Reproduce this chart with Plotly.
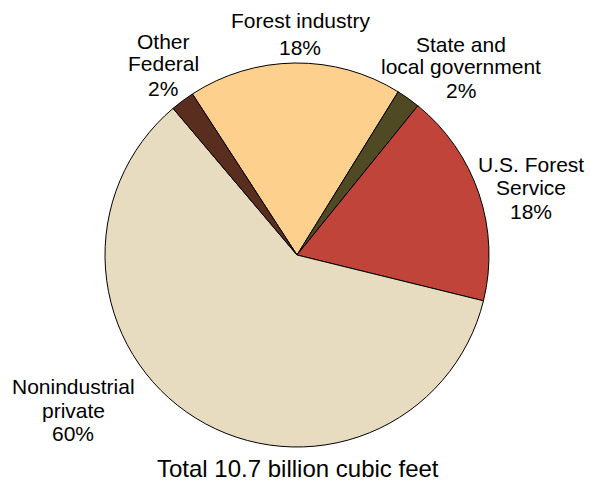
import plotly.graph_objects as go

# Owners of timber removals, share of total volume
owners = ["Forest industry", "State and local government", "U.S. Forest Service",
          "Nonindustrial private", "Other Federal"]
shares = [18, 2, 18, 60, 2]
colors = ["#FED08E", "#4F4A23", "#C0443A", "#E7DCC0", "#5A2E1E"]
label_lines = [["Forest industry", "18%"],
               ["State and", "local government", "2%"],
               ["U.S. Forest", "Service", "18%"],
               ["Nonindustrial", "private", "60%"],
               ["Other", "Federal", "2%"]]
# label anchor (center x, y of each line) in pixel space, y measured from top
label_x = [300, 461, 531, 73, 163]
label_y = [[20, 46], [43, 66, 90], [163, 186, 210], [385, 409, 432], [40, 62, 87]]

W, H = 591, 483
fig = go.Figure(go.Pie(
    labels=owners, values=shares, sort=False, direction="clockwise",
    rotation=-33, textinfo="none", hoverinfo="label+percent",
    marker=dict(colors=colors, line=dict(color="black", width=1)),
    domain=dict(x=[104 / W, 490 / W], y=[1 - 447 / H, 1 - 63 / H]),
    showlegend=False,
))

family = "Liberation Sans, Arial, sans-serif"
font = dict(family=family, size=21, color="black")
for lines, px, ys in zip(label_lines, label_x, label_y):
    for line, py in zip(lines, ys):
        fig.add_annotation(x=px / W, y=1 - (py + 1) / H, xref="paper", yref="paper",
                           text=line, showarrow=False, font=font,
                           xanchor="center", yanchor="middle")

fig.add_annotation(x=297.5 / W, y=1 - 468 / H, xref="paper", yref="paper",
                   text="Total 10.7 billion cubic feet", showarrow=False,
                   font=dict(family=family, size=24, color="black"),
                   xanchor="center", yanchor="middle", borderpad=0)

fig.update_layout(width=W, height=H, margin=dict(l=0, r=0, t=0, b=0),
                  paper_bgcolor="white", plot_bgcolor="white")
fig.write_html("out.html")
